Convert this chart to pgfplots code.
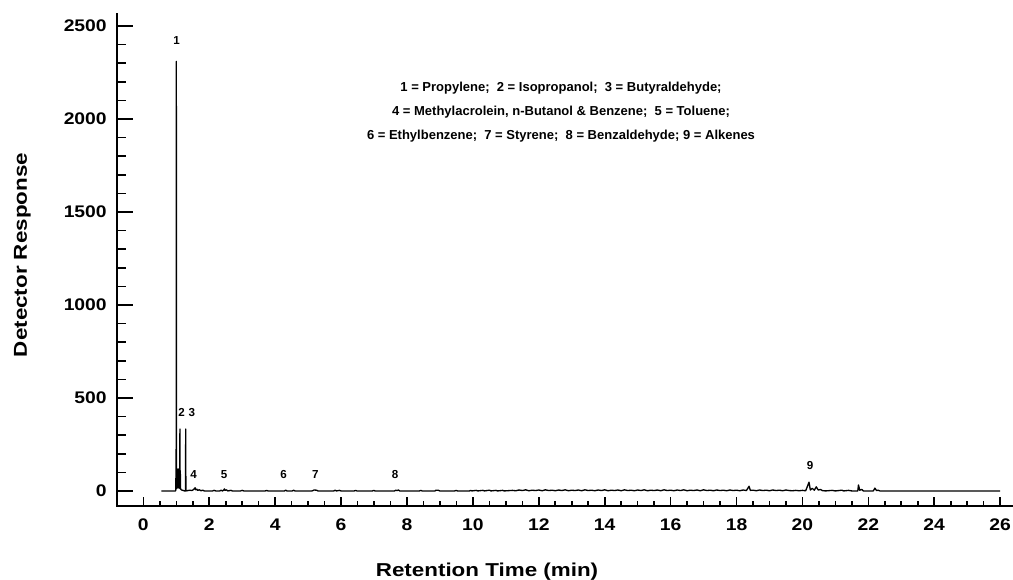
\documentclass[border=0pt]{standalone}
\usepackage{fontspec}
\setmainfont{Liberation Sans}
\newfontfamily\widefont{Liberation Sans}[FakeStretch=1.15]
\newfontfamily\widerfont{Liberation Sans}[FakeStretch=1.2]
\usepackage{pgfplots}
\usepackage{pgfplotstable}
\pgfplotsset{compat=1.18}

\pgfplotstableread{
x y
0.55 0
0.97 0
0.985 3
0.99 118
0.995 10
1.00 2310
1.005 20
1.01 118
1.02 14
1.03 118
1.04 18
1.05 116
1.06 16
1.07 118
1.08 20
1.09 115
1.10 14
1.11 333
1.115 12
1.12 110
1.13 10
1.15 6
1.20 3
1.25 0
1.28 0
1.285 333
1.29 0
1.35 2
1.42 4
1.47 2
1.52 7
1.55 12
1.57 17
1.59 6
1.62 10
1.65 3
1.70 6
1.75 1
1.80 4
1.85 0
2.10 0
2.15 3
2.20 0
2.32 0
2.36 4
2.40 0
2.44 4
2.46 11
2.48 3
2.52 6
2.56 0
2.66 3
2.70 0
2.95 0
3.00 3
3.05 0
3.70 0
3.74 3
3.78 0
4.28 0
4.32 4
4.36 0
4.52 0
4.56 4
4.60 0
5.12 0
5.18 5
5.25 4
5.30 0
5.78 0
5.82 4
5.86 0
5.95 3
6.00 0
6.40 0
6.44 3
6.48 0
6.95 0
6.99 3
7.03 0
7.62 0
7.66 4
7.70 2
7.74 5
7.78 0
8.38 0
8.42 3
8.46 0
8.85 0
8.88 4
8.95 4
8.99 0
9.45 0
9.49 3
9.53 0
9.90 0
9.93 3
9.97 0
10.10 3
10.15 0
10.30 3
10.35 0
10.50 4
10.55 0
10.70 3
10.75 0
10.90 3
10.95 0
11.2 3
11.3 1
11.4 5
11.5 2
11.6 6
11.7 1
11.8 4
11.9 2
12.0 5
12.1 1
12.2 6
12.3 2
12.4 4
12.5 1
12.6 5
12.7 2
12.8 6
12.9 1
13.0 4
13.1 2
13.2 5
13.3 1
13.4 6
13.5 2
13.6 4
13.7 1
13.8 5
13.9 2
14.0 6
14.1 1
14.2 4
14.3 2
14.4 5
14.5 1
14.6 6
14.7 2
14.8 4
14.9 1
15.0 5
15.1 2
15.2 6
15.3 1
15.4 4
15.5 2
15.6 5
15.7 1
15.8 6
15.9 2
16.0 4
16.1 1
16.2 5
16.3 2
16.4 6
16.5 1
16.6 4
16.7 2
16.8 5
16.9 1
17.0 6
17.1 2
17.2 4
17.3 1
17.4 5
17.5 2
17.6 4
17.7 1
17.8 5
17.9 2
18.0 4
18.1 1
18.2 5
18.3 2
18.38 25
18.42 3
18.5 4
18.6 1
18.7 5
18.8 2
18.9 4
19.0 1
19.1 5
19.2 2
19.3 4
19.4 1
19.5 5
19.6 2
19.7 1
19.8 3
19.9 1
20.0 3
20.1 1
20.2 47
20.24 5
20.3 14
20.36 4
20.42 22
20.48 5
20.55 8
20.6 2
20.7 0
20.9 3
21.0 0
21.2 4
21.25 0
21.4 3
21.5 0
21.68 0
21.7 32
21.74 4
21.8 8
21.85 0
22.15 0
22.2 15
22.25 2
22.3 4
22.35 0
26.0 0
}\chrom

\newcommand\tickfont{\widefont\bfseries\fontsize{12.6}{14}\selectfont}
\newcommand\labfont{\widerfont\bfseries\fontsize{14}{16}\selectfont}
\newcommand\annfont{\bfseries\fontsize{9.75}{11}\selectfont}
\newcommand\pkfont{\bfseries\fontsize{8.7}{10}\selectfont}

\begin{document}
\begin{tikzpicture}
\pgfplotsset{
  common/.style={
    scale only axis, width=671.25pt, height=369pt,
    xmin=-0.8, xmax=26.36, ymin=-81, ymax=2565,
    at={(0,0)}, anchor=south west,
    tick align=inside,
    axis line style={line width=1.6pt, line cap=rect},
    tick style={black, line width=1.2pt},
    /pgf/number format/assume math mode=true,
    /pgf/number format/1000 sep={},
    clip=false,
  }
}
% y axis
\begin{axis}[common,
  axis x line=none, axis y line*=left,
  ytick={0,500,...,2500},
  minor ytick={0,100,...,2500},
  major tick length=12pt, minor tick length=7pt,
  yticklabel style={font=\tickfont, anchor=east, inner sep=0pt, xshift=-7.5pt},
]
\end{axis}
% x axis and data
\begin{axis}[common,
  axis y line=none, axis x line*=bottom,
  xtick={0,2,...,26},
  minor xtick={0,0.5,...,26},
  major tick length=6.75pt, minor tick length=3.75pt,
  xticklabel style={font=\tickfont, anchor=base, inner sep=0pt, yshift=-18.75pt},
]
\addplot[black, line width=1.0pt, line join=round, mark=none] table[x=x, y=y] {\chrom};
\node[anchor=base, font=\pkfont] at (axis cs:1.008,2403) {1};
\node[anchor=base, font=\pkfont] at (axis cs:1.159,398) {2};
\node[anchor=base, font=\pkfont] at (axis cs:1.469,398) {3};
\node[anchor=base, font=\pkfont] at (axis cs:1.523,66) {4};
\node[anchor=base, font=\pkfont] at (axis cs:2.449,65) {5};
\node[anchor=base, font=\pkfont] at (axis cs:4.255,65) {6};
\node[anchor=base, font=\pkfont] at (axis cs:5.22,65) {7};
\node[anchor=base, font=\pkfont] at (axis cs:7.64,65) {8};
\node[anchor=base, font=\pkfont] at (axis cs:20.23,117) {9};
\end{axis}
\node[anchor=base, font=\annfont] at (333pt,310.5pt) {1 = Propylene;\ \ 2 = Isopropanol;\ \ 3 = Butyraldehyde;};
\node[anchor=base, font=\annfont] at (333pt,292.5pt) {4 = Methylacrolein, n-Butanol \& Benzene;\ \ 5 = Toluene;};
\node[anchor=base, font=\annfont] at (333pt,274.5pt) {6 = Ethylbenzene;\ \ 7 = Styrene;\ \ 8 = Benzaldehyde; 9 = Alkenes};
\node[anchor=base, font=\labfont] at (277.5pt,-53.25pt) {Retention Time (min)};
\node[anchor=base, rotate=90, font=\labfont] at (-67.5pt,188.25pt) {Detector Response};
\pgfresetboundingbox
\useasboundingbox (-87.75pt,-55.5pt) rectangle (672pt,379.5pt);
\end{tikzpicture}
\end{document}
